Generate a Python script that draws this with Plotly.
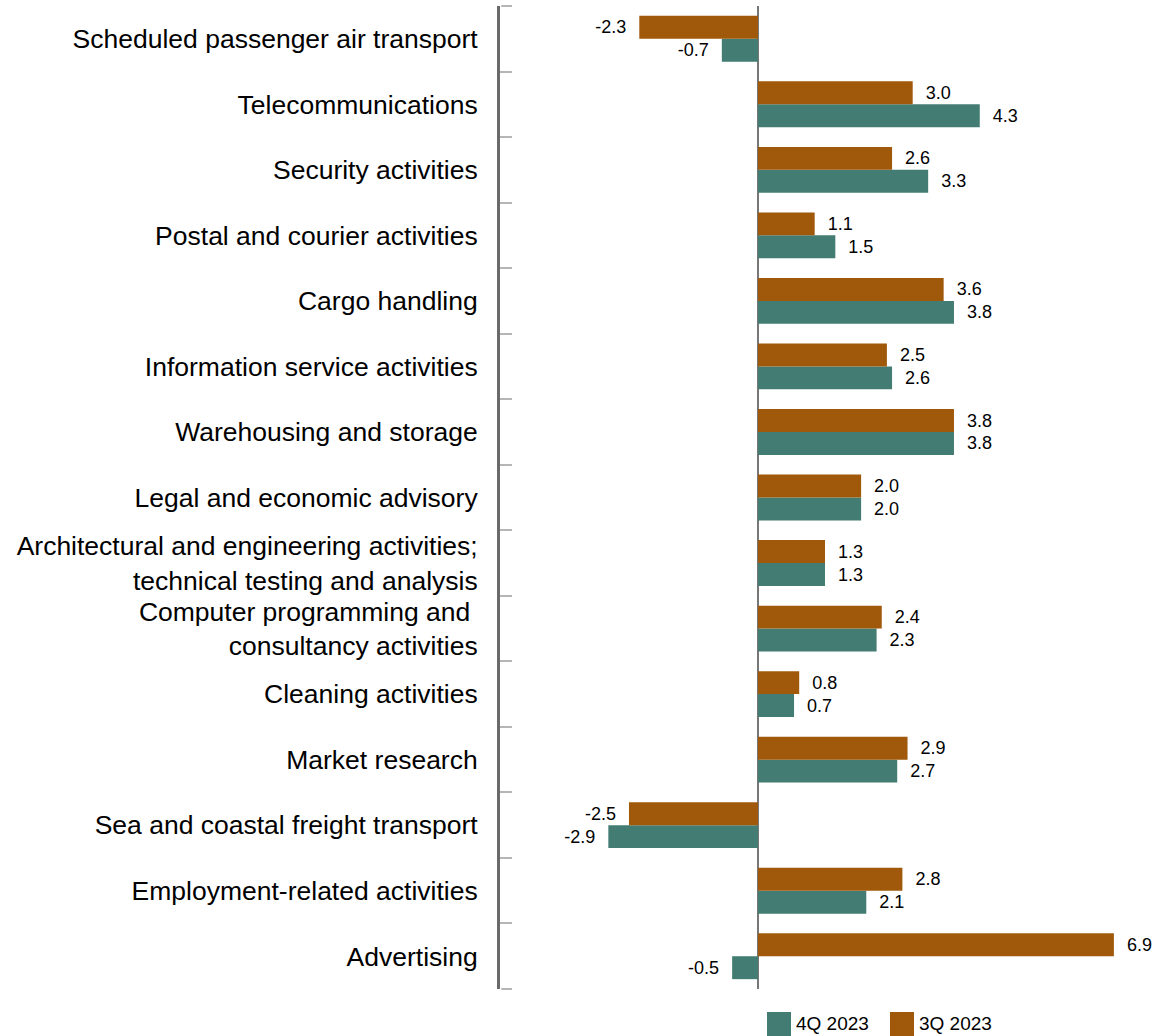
import plotly.graph_objects as go

categories = [
    "Scheduled passenger air transport",
    "Telecommunications",
    "Security activities",
    "Postal and courier activities",
    "Cargo handling",
    "Information service activities",
    "Warehousing and storage",
    "Legal and economic advisory",
    "Architectural and engineering activities;<br>technical testing and analysis",
    "Computer programming and <br>consultancy activities",
    "Cleaning activities",
    "Market research",
    "Sea and coastal freight transport",
    "Employment-related activities",
    "Advertising",
]
series_names = ["4Q 2023", "3Q 2023"]
q4_2023 = [-0.7, 4.3, 3.3, 1.5, 3.8, 2.6, 3.8, 2.0, 1.3, 2.3, 0.7, 2.7, -2.9, 2.1, -0.5]
q3_2023 = [-2.3, 3.0, 2.6, 1.1, 3.6, 2.5, 3.8, 2.0, 1.3, 2.4, 0.8, 2.9, -2.5, 2.8, 6.9]
colors = ["#437C72", "#A0580A"]

FONT = "Liberation Sans, Arial, sans-serif"


def labels(vals):
    return [f"  {v:.1f}" if v >= 0 else f"{v:.1f}  " for v in vals]


fig = go.Figure()
for name, vals, col in zip(series_names, [q4_2023, q3_2023], colors):
    fig.add_trace(go.Bar(
        y=categories, x=vals, name=name, orientation="h",
        marker=dict(color=col, line=dict(width=0)),
        text=labels(vals), textposition="outside",
        textfont=dict(size=18, color="#000000", family=FONT),
        constraintext="none", cliponaxis=False, showlegend=False,
    ))

fig.update_layout(
    width=1156, height=1036,
    margin=dict(l=500, r=6, t=6, b=47),
    paper_bgcolor="white", plot_bgcolor="white",
    barmode="group", bargap=0.3, bargroupgap=0,
    font=dict(family=FONT, color="#000000"),
    xaxis=dict(range=[-5, 7.6], showgrid=False, showticklabels=False,
               ticks="", zeroline=True, zerolinecolor="#777777",
               zerolinewidth=2, showline=False),
    yaxis=dict(categoryorder="array", categoryarray=list(reversed(categories)),
               range=[-0.5, len(categories) - 0.5],
               showgrid=False, showline=True, linecolor="#6a6a6a", linewidth=3,
               ticks="inside", tickson="boundaries", ticklen=12,
               tickcolor="#b5b5b5", tickwidth=2,
               tickfont=dict(size=26.5, color="#000000", family=FONT),
               ticklabelstandoff=14),
)

# outer boundary ticks at top and bottom of the category axis
for yb in [0, 1]:
    fig.add_shape(type="line", xref="paper", yref="paper",
                  x0=0.002, x1=12 / 650, y0=yb, y1=yb,
                  line=dict(color="#b5b5b5", width=2))

# legend (custom large swatches)
legend_x = [767, 890]
for name, col, x0 in zip(series_names, colors, legend_x):
    fig.add_shape(type="rect", xref="paper", yref="paper",
                  x0=(x0 - 500) / 650, x1=(x0 + 24 - 500) / 650,
                  y0=-(1012 - 989) / 983 - 24 / 983, y1=-(1012 - 989) / 983,
                  fillcolor=col, line=dict(width=0))
    fig.add_annotation(xref="paper", yref="paper", x=(x0 + 27 - 500) / 650,
                       y=-(1024 - 989) / 983, text=name, showarrow=False,
                       xanchor="left", yanchor="middle",
                       font=dict(size=19, color="#000000", family=FONT))

fig.write_html("out.html", config={"displayModeBar": False},
               post_script="document.body.style.margin='0';document.body.style.overflow='hidden';")
